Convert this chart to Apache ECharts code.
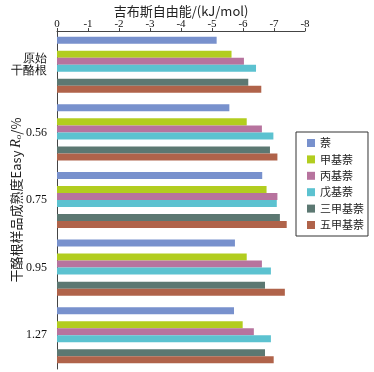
<!DOCTYPE html>
<html><head><meta charset="utf-8">
<script src="https://cdn.jsdelivr.net/npm/echarts@6/dist/echarts.min.js"></script>
<style>html,body{margin:0;padding:0;background:#fff}#c{width:374px;height:372px}</style>
</head><body><div id="c"></div>
<script>
var categories = ['原始\n干酪根', '0.56', '0.75', '0.95', '1.27'];
var seriesNames = ['萘', '甲基萘', '丙基萘', '戊基萘', '三甲基萘', '五甲基萘'];
var naph   = [-5.15, -5.56, -6.62, -5.74, -5.71];
var methyl = [-5.63, -6.12, -6.76, -6.12, -5.99];
var propyl = [-6.03, -6.61, -7.11, -6.61, -6.35];
var pentyl = [-6.42, -6.98, -7.09, -6.90, -6.90];
var trimethyl = [-6.17, -6.87, -7.19, -6.71, -6.71];
var pentamethyl = [-6.59, -7.11, -7.41, -7.35, -6.99];
var xTicks = ['0', '-1', '-2', '-3', '-4', '-5', '-6', '-7', '-8'];
var colors = ['#7891cd', '#b2cd1f', '#b7739e', '#5cc2d0', '#5c7872', '#b0634a'];

var values = [naph, methyl, propyl, pentyl, trimethyl, pentamethyl];
// slot layout: blue, empty, green, pink, cyan, empty, dark, brown
var layout = [0, null, 1, 2, 3, null, 4, 5];
var series = layout.map(function (idx, k) {
  if (idx === null) {
    return { name: 'blank' + k, type: 'bar', data: categories.map(function () { return null; }), barGap: '0%', barCategoryGap: '17%' };
  }
  return {
    name: seriesNames[idx], type: 'bar', data: values[idx],
    itemStyle: { color: colors[idx] },
    barGap: '0%', barCategoryGap: '17%'
  };
});

var chart = echarts.init(document.getElementById('c'));
chart.setOption({
  animation: false,
  grid: { left: 57, right: 69, top: 31, bottom: 3, containLabel: false, outerBoundsMode: 'none' },
  legend: {
    data: seriesNames, orient: 'vertical', left: 296, top: 132,
    itemWidth: 8, itemHeight: 8, itemGap: 4.4,
    padding: [5, 4, 5, 11], borderColor: '#333', borderWidth: 1,
    icon: 'rect',
    textStyle: { fontFamily: 'Noto Sans CJK SC', fontSize: 11, lineHeight: 12, color: '#222' }
  },
  xAxis: {
    type: 'value', position: 'top', inverse: true, min: -8, max: 0, interval: 1,
    name: '吉布斯自由能/(kJ/mol)', nameLocation: 'middle', nameGap: 13, nameMoveOverlap: false,
    nameTextStyle: { fontFamily: 'Noto Sans CJK SC', fontSize: 13, color: '#222' },
    axisLine: { show: true, lineStyle: { color: '#444' } },
    axisTick: { show: true, length: 3, lineStyle: { color: '#444' } },
    axisLabel: { fontFamily: 'Liberation Serif', fontSize: 11, color: '#111', margin: 1,
      formatter: function (v) { return xTicks[Math.round(-v)]; } },
    splitLine: { show: false }
  },
  yAxis: {
    type: 'category', data: categories, inverse: true,
    name: '干酪根样品成熟度Easy {i|R}{s|o}/%', nameLocation: 'middle', nameGap: 34, nameMoveOverlap: false,
    nameTextStyle: { fontFamily: 'Noto Sans CJK SC', fontSize: 13, color: '#222',
      rich: { i: { fontFamily: 'Liberation Serif', fontStyle: 'italic', fontSize: 14, color: '#222' },
              s: { fontFamily: 'Liberation Serif', fontStyle: 'italic', fontSize: 9, verticalAlign: 'bottom', color: '#222' } } },
    axisLine: { show: true, lineStyle: { color: '#444' } },
    axisTick: { show: false },
    axisLabel: { fontFamily: 'Liberation Serif', fontSize: 12, color: '#111', margin: 10, lineHeight: 12 }
  },
  series: series
});
</script></body></html>
